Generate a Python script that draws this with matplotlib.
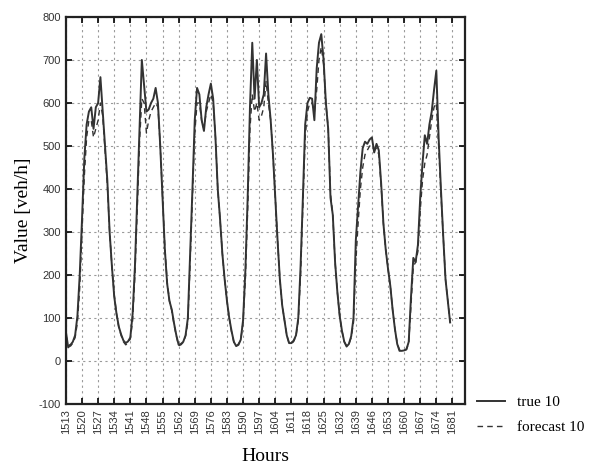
import numpy as np
import matplotlib.pyplot as plt

# Hours on the x axis (one value per hour)
hours = np.arange(1513, 1681)

true_10 = [
    68, 32, 38, 45, 60, 105, 200, 330, 470, 550, 580, 590, 540, 590, 600, 660,
    580, 500, 420, 300, 220, 150, 110, 80, 62, 48, 42, 46, 55, 110, 220, 380,
    545, 700, 640, 580, 585, 600, 610, 635, 600, 500, 380, 260, 180, 140, 120, 88,
    60, 38, 40, 45, 60, 100, 250, 400, 560, 635, 620, 560, 535, 590, 620, 645,
    610, 520, 400, 330, 250, 190, 140, 100, 70, 45, 35, 38, 50, 95, 210, 380,
    590, 740, 610, 700, 590, 600, 620, 715, 620, 560, 480, 380, 280, 190, 130, 95,
    60, 42, 42, 48, 60, 100, 220, 380, 550, 600, 612, 610, 560, 680, 740, 760,
    700, 600, 540, 380, 340, 230, 160, 105, 70, 45, 34, 40, 58, 100, 280, 360,
    440, 495, 510, 505, 515, 520, 485, 505, 490, 415, 320, 260, 215, 175, 120, 75,
    40, 24, 24, 25, 27, 45, 150, 240, 230, 270, 380, 460, 525, 505, 550, 580,
    630, 675, 520, 400, 290, 190, 140, 90,
]

# Forecast
forecast_10 = [
    60, 40, 35, 42, 55, 90, 170, 300, 430, 520, 560, 560, 520, 540, 560, 600,
    570, 490, 410, 300, 220, 155, 110, 78, 60, 45, 38, 42, 52, 95, 200, 350,
    510, 610, 600, 530, 560, 580, 590, 600, 590, 500, 385, 265, 185, 140, 118, 85,
    58, 36, 38, 44, 58, 90, 230, 380, 530, 600, 600, 560, 540, 580, 600, 620,
    600, 520, 400, 330, 250, 190, 140, 100, 68, 44, 36, 40, 50, 90, 190, 350,
    540, 620, 580, 600, 560, 570, 590, 650, 600, 560, 480, 380, 280, 190, 130, 95,
    60, 42, 40, 46, 58, 95, 200, 360, 520, 580, 600, 600, 580, 630, 700, 730,
    690, 600, 540, 390, 340, 230, 160, 105, 70, 45, 36, 40, 55, 90, 230, 320,
    400, 450, 480, 490, 500, 500, 490, 495, 480, 410, 320, 260, 215, 175, 120, 75,
    42, 26, 25, 26, 28, 42, 130, 220, 230, 255, 350, 420, 460, 480, 520, 560,
    590, 600, 500, 390, 290, 190, 140, 90,
]

x_ticks = np.arange(1513, 1682, 7)
y_ticks = np.arange(-100, 801, 100)

fig = plt.figure(figsize=(6.16, 4.70), dpi=100)
ax = fig.add_axes([0.107, 0.140, 0.648, 0.824])

ax.plot(hours, true_10, color='#333333', linewidth=1.4, label='true 10')
ax.plot(hours, forecast_10, color='#333333', linewidth=1.0, linestyle=(0, (4, 3)),
        label='forecast 10')

ax.set_xlim(1513, 1686.5)
ax.set_ylim(-100, 800)
ax.set_xticks(x_ticks)
ax.set_yticks(y_ticks)
ax.set_xticklabels([str(t) for t in x_ticks], rotation=90, fontsize=8,
                   family='Liberation Sans', color='#333333')
ax.set_yticklabels([str(t) for t in y_ticks], fontsize=8,
                   family='Liberation Sans', color='#333333')

ax.tick_params(direction='in', top=True, right=True, length=4, width=1.2)
ax.grid(True, linestyle=(0, (2, 3)), color='#9a9a9a', linewidth=0.8)

for s in ax.spines.values():
    s.set_linewidth(1.6)
    s.set_color('#222222')

ax.set_xlabel('Hours', fontsize=14, family='Liberation Serif', labelpad=10)
ax.set_ylabel('Value [veh/h]', fontsize=14, family='Liberation Serif', labelpad=5)

fig.legend(loc='upper left', bbox_to_anchor=(0.765, 0.172), frameon=False,
           handlelength=1.8, prop={'family': 'Liberation Serif', 'size': 11},
           labelspacing=0.75, borderaxespad=0)

plt.savefig('out.png', dpi=100)
